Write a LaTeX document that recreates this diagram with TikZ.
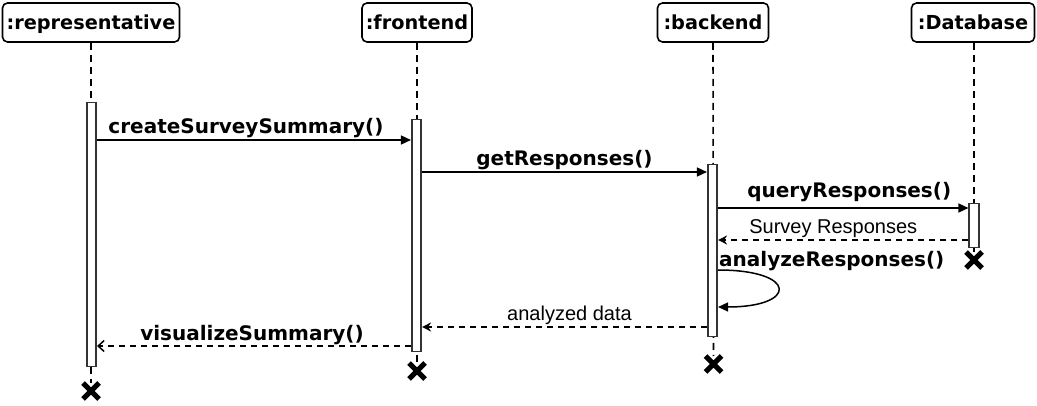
\documentclass[tikz,border=0pt]{standalone}
\usepackage{fontspec}
\setmainfont{DejaVu Sans}
\newfontfamily\arialfont{Liberation Sans}
\usetikzlibrary{arrows.meta,shapes.misc}
\tikzset{
  head/.style={draw, line width=1.6pt, rounded corners=5pt, minimum height=39pt, inner sep=0pt,
    text height=15pt, text depth=0pt, font=\fontsize{19.3}{22}\selectfont\bfseries},
  life/.style={line width=1.6pt, dash pattern=on 7pt off 5pt},
  actbar/.style={draw=black!80, fill=white, line width=1.6pt, minimum width=9.5pt, inner sep=0pt},
  xmk/.style={cross out, draw, line width=5pt, minimum size=11pt, inner sep=0pt},
  callmsg/.style={line width=1.5pt, -{Triangle[length=10pt,width=9pt]}},
  retmsg/.style={line width=1.5pt, dash pattern=on 6pt off 5pt, -{Stealth[length=9pt,width=9pt,inset=3pt]}},
  openret/.style={line width=1.5pt, dash pattern=on 6pt off 5pt, -{Straight Barb[length=6pt,width=11pt]}},
  blbl/.style={font=\fontsize{20}{22}\selectfont\bfseries, anchor=base, inner sep=0pt},
  rlbl/.style={font=\fontsize{20}{22}\selectfont\arialfont, anchor=base, inner sep=0pt},
}
\begin{document}
\begin{tikzpicture}[x=1pt,y=-1pt]
\useasboundingbox (0,0) rectangle (1037,406);
% heads
\node[head, minimum width=177pt] (rep) at (91,22.5) {:representative};
\node[head, minimum width=110pt] (fe) at (417,22.5) {:frontend};
\node[head, minimum width=111pt] (be) at (713,22.5) {:backend};
\node[head, minimum width=123pt] (db) at (973,22.5) {:Database};
% ends
\node[xmk] (repx) at (91,391) {};
\node[xmk] (fex) at (417,371) {};
\node[xmk] (bex) at (713.5,364) {};
\node[xmk] (dbx) at (974,260) {};
% lifelines
\draw[life] (rep.south) -- (repx.north);
\draw[life] (fe.south) -- (fex.north);
\draw[life] (be.south) -- (bex.north);
\draw[life] (db.south -| dbx.north) -- (dbx.north);
% activation bars
\node[actbar, minimum height=264pt] (repbar) at (91.5,234.5) {};
\node[actbar, minimum height=232pt] (febar) at (416.5,235.5) {};
\node[actbar, minimum height=172pt] (bebar) at (712.5,250.5) {};
\node[actbar, minimum height=44pt] (dbbar) at (974,225.5) {};
% messages
\draw[callmsg] (repbar.east |- 0,140) -- (febar.west |- 0,140)
  node[blbl, midway, yshift=6pt, xshift=-8pt] {createSurveySummary()};
\draw[callmsg] (febar.east |- 0,172) -- (bebar.west |- 0,172)
  node[blbl, midway, yshift=6pt] {getResponses()};
\draw[callmsg] (bebar.east |- 0,208) -- (dbbar.west |- 0,208)
  node[blbl, midway, yshift=10pt, xshift=6pt] {queryResponses()};
\draw[retmsg] (dbbar.west |- 0,240) -- (bebar.east |- 0,240)
  node[rlbl, midway, yshift=6pt, xshift=-10pt] {Survey Responses};
\draw[callmsg] (bebar.east |- 0,270) .. controls (798,270) and (798,307) .. (bebar.east |- 0,307);
\node[blbl, anchor=base west] (alab) at (719,267) {analyzeResponses()};
\draw[retmsg] (bebar.west |- 0,327) -- (febar.east |- 0,327)
  node[rlbl, midway, yshift=6pt, xshift=5pt] {analyzed data};
\draw[openret] (febar.west |- 0,346) -- (repbar.east |- 0,346)
  node[blbl, midway, yshift=5pt, xshift=-2pt] {visualizeSummary()};
\end{tikzpicture}
\end{document}
